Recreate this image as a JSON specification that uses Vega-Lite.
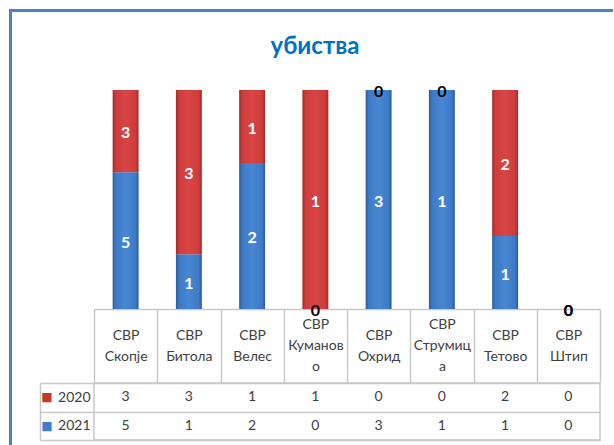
{
  "$schema": "https://vega.github.io/schema/vega-lite/v6.json",
  "padding": {"left": 9, "top": 9, "right": 0, "bottom": 0},
  "background": "white",
  "config": {"view": {"stroke": null}, "font": "Lato"},
  "datasets": {
    "d": [
      {"region": "СВР Скопје", "year": "2020", "count": 3},
      {"region": "СВР Скопје", "year": "2021", "count": 5},
      {"region": "СВР Битола", "year": "2020", "count": 3},
      {"region": "СВР Битола", "year": "2021", "count": 1},
      {"region": "СВР Велес", "year": "2020", "count": 1},
      {"region": "СВР Велес", "year": "2021", "count": 2},
      {"region": "СВР Куманово", "year": "2020", "count": 1},
      {"region": "СВР Куманово", "year": "2021", "count": 0},
      {"region": "СВР Охрид", "year": "2020", "count": 0},
      {"region": "СВР Охрид", "year": "2021", "count": 3},
      {"region": "СВР Струмица", "year": "2020", "count": 0},
      {"region": "СВР Струмица", "year": "2021", "count": 1},
      {"region": "СВР Тетово", "year": "2020", "count": 2},
      {"region": "СВР Тетово", "year": "2021", "count": 1},
      {"region": "СВР Штип", "year": "2020", "count": 0},
      {"region": "СВР Штип", "year": "2021", "count": 0}
    ],
    "titles": [{"t": "убиства"}]
  },
  "spacing": 0,
  "vconcat": [
    {
      "data": {"name": "titles"},
      "mark": {"type": "point", "size": 0, "opacity": 0, "strokeWidth": 0},
      "width": 604,
      "height": 3,
      "view": {"fill": "#4f81bd", "stroke": null}
    },
    {
      "spacing": 26,
      "hconcat": [
        {
          "data": {"name": "titles"},
          "mark": {"type": "point", "size": 0, "opacity": 0, "strokeWidth": 0},
          "width": 3,
          "height": 433,
          "view": {"fill": "#4f81bd", "stroke": null}
        },
        {
          "spacing": -8,
          "vconcat": [
            {
              "width": 506,
              "height": 78,
              "data": {"name": "titles"},
              "mark": {"type": "text", "fontSize": 24, "fontWeight": "bold", "color": "#0070c0", "font": "Lato", "dx": -32, "dy": -4},
              "encoding": {"text": {"field": "t"}}
            },
            {
              "width": 506,
              "height": 219,
              "data": {"name": "d"},
              "transform": [
                {"stack": "count", "groupby": ["region"], "sort": [{"field": "year", "order": "descending"}], "as": ["v0", "v1"], "offset": "normalize"},
                {"calculate": "isFinite(datum.v1) ? (datum.v0 + datum.v1) / 2 : 0", "as": "mid"}
              ],
              "encoding": {
                "x": {
                  "field": "region", "type": "nominal", "sort": null,
                  "scale": {"paddingInner": 0, "paddingOuter": 0},
                  "axis": {
                    "orient": "bottom", "title": null, "grid": false,
                    "domain": true, "domainColor": "#c8c8c8", "domainWidth": 1.5,
                    "ticks": true, "tickBand": "extent", "tickSize": 73, "tickColor": "#c8c8c8", "tickWidth": 1.5,
                    "labelAngle": 0, "labelFont": "Lato", "labelFontSize": 14, "labelColor": "#404040",
                    "labelBaseline": "top", "labelLineHeight": 21, "labelLimit": 0,
                    "labelPadding": {"condition": {"test": "datum.value == 'СВР Куманово' || datum.value == 'СВР Струмица'", "value": -65}, "value": -54},
                    "labelExpr": "!isString(datum.value) ? '' : datum.value == 'СВР Куманово' ? ['СВР', 'Куманов', 'о'] : datum.value == 'СВР Струмица' ? ['СВР', 'Струмиц', 'а'] : split(datum.value, ' ')"
                  }
                }
              },
              "layer": [
                {
                  "transform": [{"filter": "datum.year == '2021'"}],
                  "mark": {"type": "bar", "width": {"band": 0.41},
                    "fill": {"gradient": "linear", "x1": 0, "x2": 1, "y1": 0, "y2": 0, "stops": [
                      {"offset": 0, "color": "#2c5a98"}, {"offset": 0.12, "color": "#3d7ac6"}, {"offset": 0.5, "color": "#4887d3"}, {"offset": 0.88, "color": "#3d7ac6"}, {"offset": 1, "color": "#2c5a98"}]}},
                  "encoding": {
                    "y": {"field": "v1", "type": "quantitative", "scale": {"domain": [0, 1]},
                      "axis": {"title": null, "labels": false, "ticks": false, "domain": false, "grid": true, "gridColor": "#dcdcdc", "gridWidth": 2, "values": [0, 0.1, 0.2, 0.3, 0.4, 0.5, 0.6, 0.7, 0.8, 0.9, 1]}},
                    "y2": {"field": "v0"}
                  }
                },
                {
                  "transform": [{"filter": "datum.year == '2020'"}],
                  "mark": {"type": "bar", "width": {"band": 0.41},
                    "fill": {"gradient": "linear", "x1": 0, "x2": 1, "y1": 0, "y2": 0, "stops": [
                      {"offset": 0, "color": "#a22a2a"}, {"offset": 0.12, "color": "#cd3c3c"}, {"offset": 0.5, "color": "#da4545"}, {"offset": 0.88, "color": "#cd3c3c"}, {"offset": 1, "color": "#a22a2a"}]}},
                  "encoding": {
                    "y": {"field": "v1", "type": "quantitative", "axis": null},
                    "y2": {"field": "v0"}
                  }
                },
                {
                  "mark": {"type": "text", "fontWeight": "bold", "fontSize": 16, "baseline": "middle", "font": "Lato", "dy": 2},
                  "encoding": {
                    "y": {"field": "mid", "type": "quantitative", "axis": null},
                    "text": {"field": "count"},
                    "color": {"condition": {"test": "datum.count > 0", "value": "white"}, "value": "black"}
                  }
                }
              ]
            },
            {
              "width": 506,
              "height": 57,
              "data": {"name": "d"},
              "view": {"stroke": "#c8c8c8", "strokeWidth": 1.5},
              "layer": [
                {
                  "mark": {"type": "text", "fontSize": 14, "color": "#404040", "font": "Lato"},
                  "encoding": {
                    "x": {"field": "region", "type": "nominal", "sort": null, "scale": {"paddingInner": 0, "paddingOuter": 0},
                      "axis": {"orient": "bottom", "title": null, "labels": false, "ticks": false, "domain": false, "grid": true, "tickBand": "extent", "gridColor": "#c8c8c8", "gridWidth": 1.5}},
                    "y": {"field": "year", "type": "nominal", "sort": ["2020", "2021"], "scale": {"paddingInner": 0, "paddingOuter": 0},
                      "axis": {"orient": "left", "title": null, "domain": false, "grid": true, "tickBand": "extent", "gridColor": "#c8c8c8", "gridWidth": 1.5,
                        "ticks": true, "tickSize": 54, "tickColor": "#c8c8c8", "tickWidth": 1.5,
                        "labelPadding": -50, "labelFont": "Lato", "labelFontSize": 14, "labelColor": "#404040"}},
                    "text": {"field": "count"}
                  }
                },
                {
                  "mark": {"type": "text", "text": ""},
                  "encoding": {
                    "x": {"field": "region", "type": "nominal", "sort": null, "axis": null},
                    "y": {"field": "year", "type": "nominal", "sort": ["2020", "2021"],
                      "axis": {"orient": "left", "offset": 54, "title": null, "domain": true, "domainColor": "#c8c8c8", "domainWidth": 1.5,
                        "ticks": false, "grid": false, "labelExpr": "'■'", "labelPadding": -12, "labelFontSize": 12, "labelFont": "DejaVu Sans",
                        "labelColor": {"condition": {"test": "datum.value == '2020'", "value": "#c0392b"}, "value": "#3f7fcf"}}}
                  }
                }
              ],
              "resolve": {"axis": {"y": "independent"}}
            }
          ]
        }
      ]
    }
  ]
}
